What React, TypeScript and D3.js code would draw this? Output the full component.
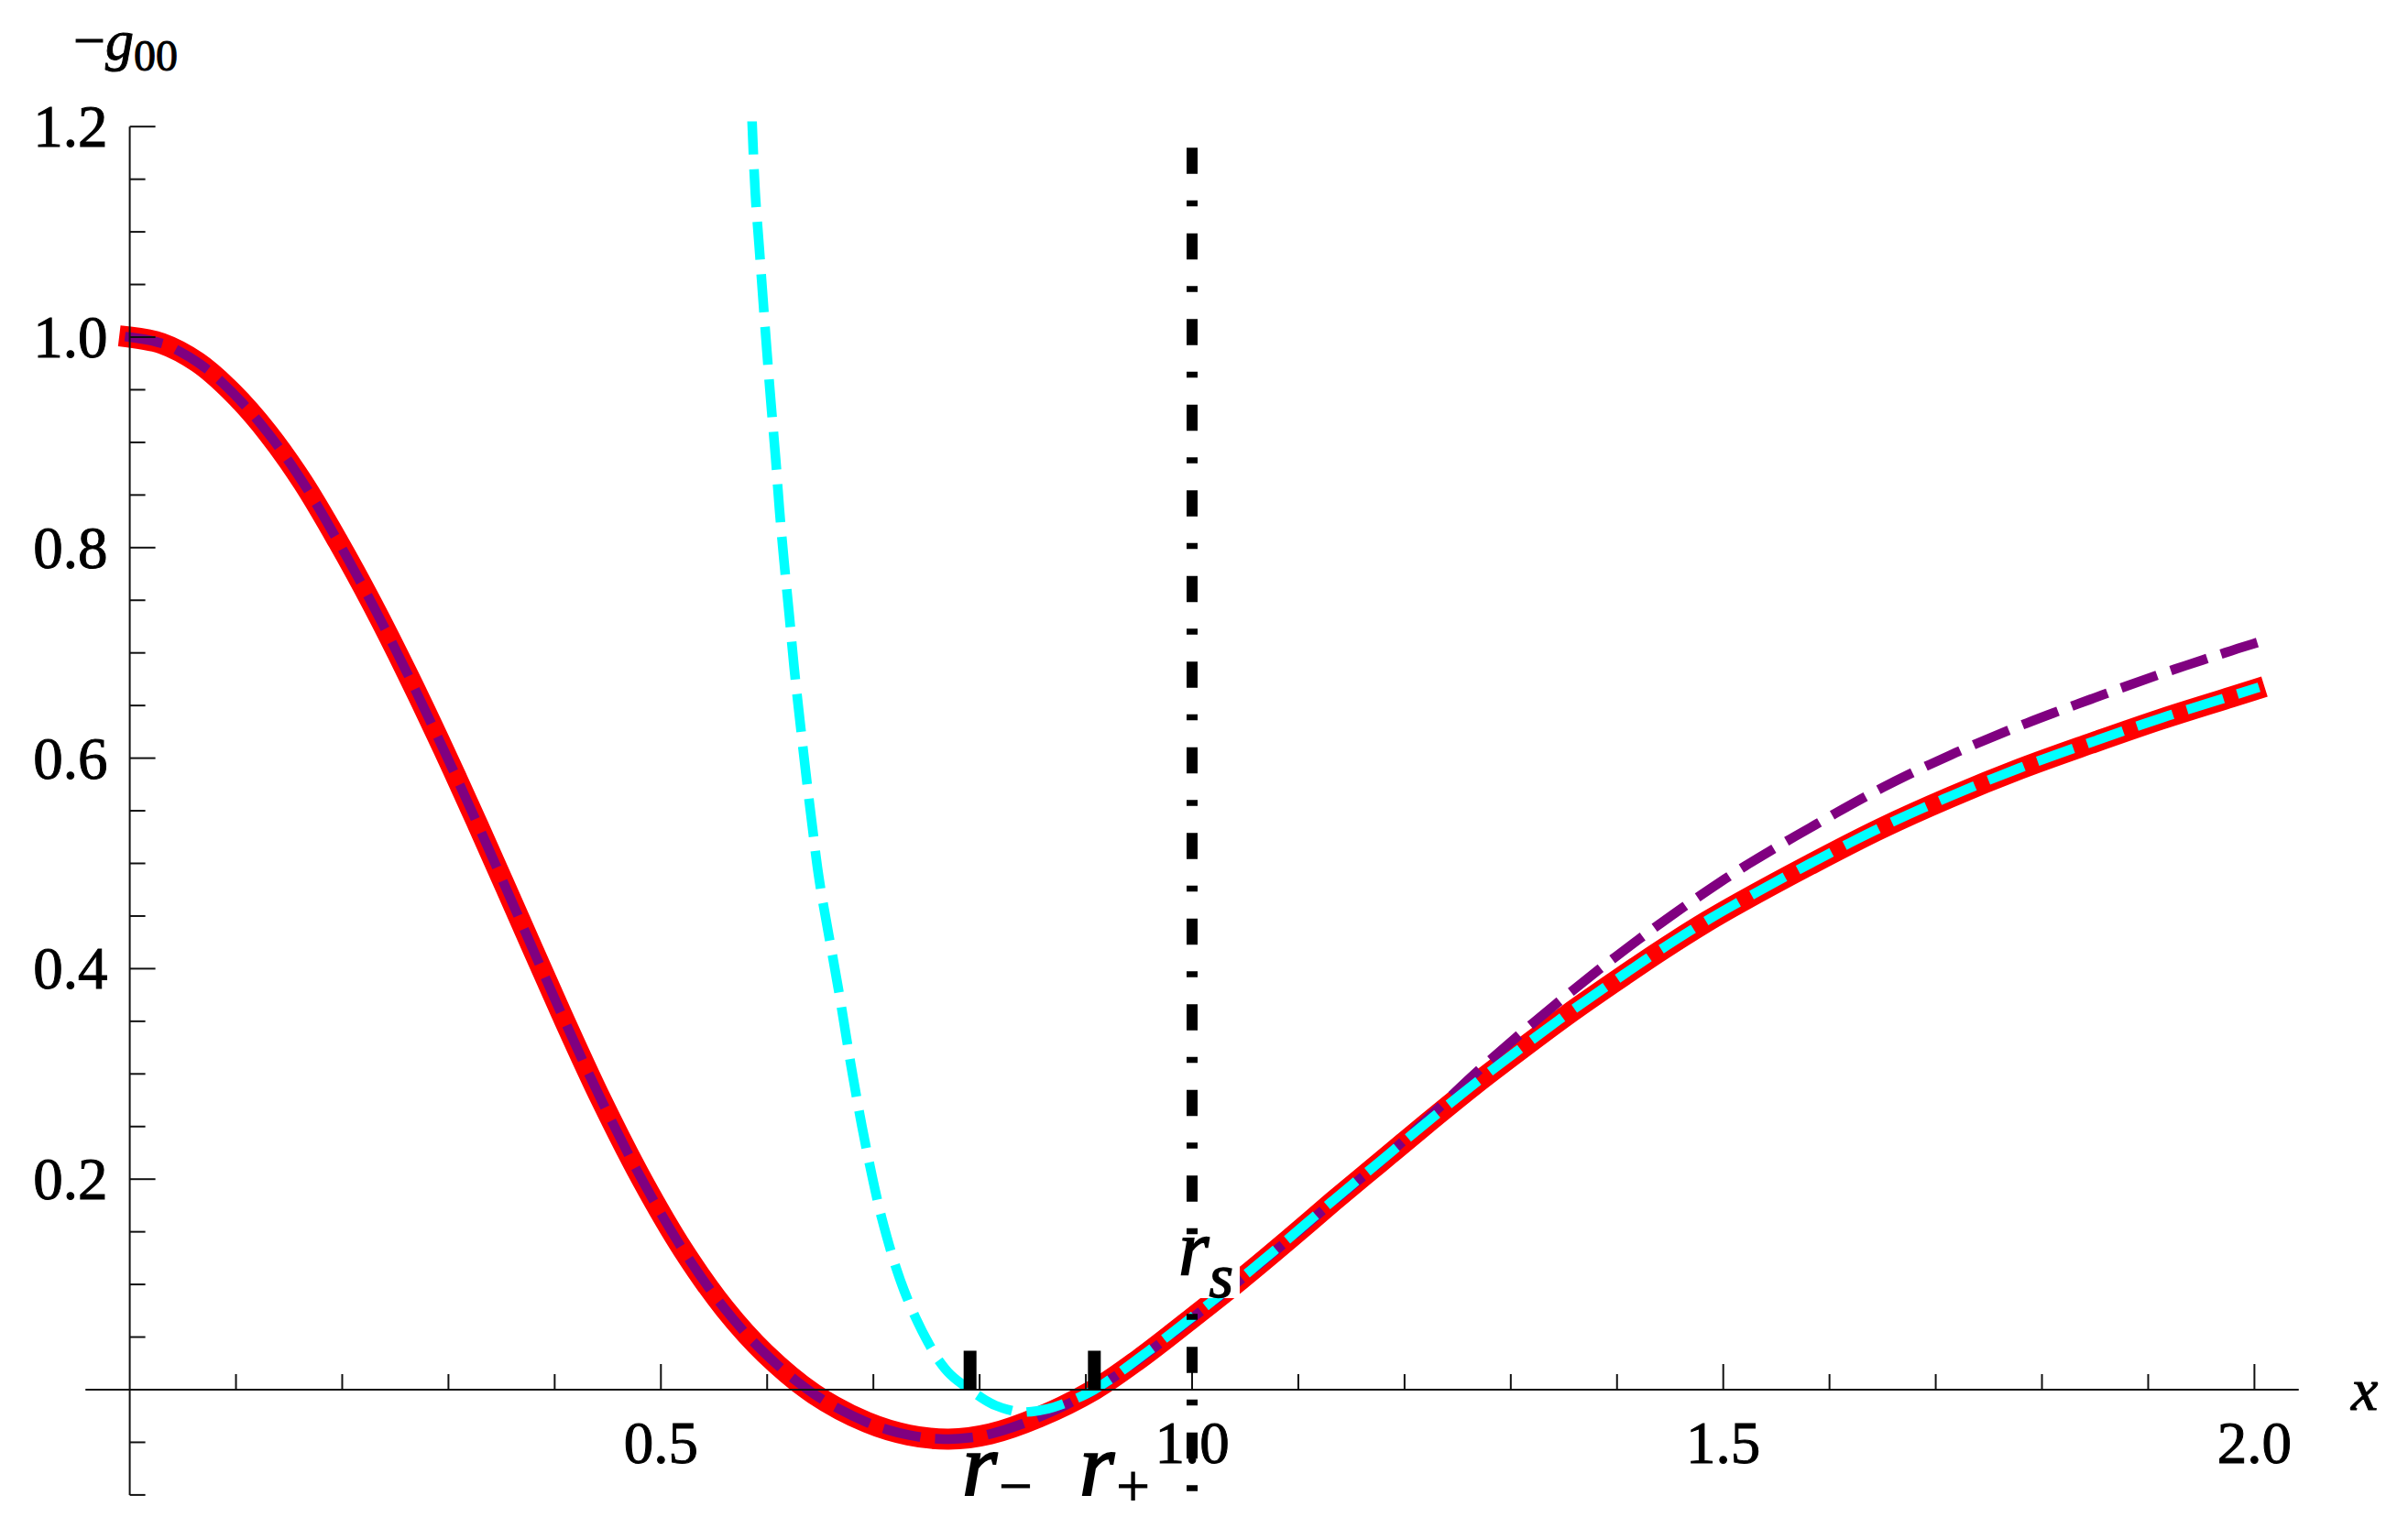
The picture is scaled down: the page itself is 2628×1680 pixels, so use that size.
import React from "react";
import * as d3 from "d3";

// ---------- data ----------
type Pt = [number, number];

// exact metric function (thick red)
const exactCurve: Pt[] = [
  [0, 1.0], [0.03, 0.994], [0.064, 0.976], [0.097, 0.947], [0.13, 0.909],
  [0.163, 0.862], [0.196, 0.806], [0.229, 0.745], [0.262, 0.679], [0.295, 0.609],
  [0.328, 0.536], [0.367, 0.447], [0.406, 0.358], [0.444, 0.275], [0.483, 0.198],
  [0.521, 0.1325], [0.56, 0.077], [0.598, 0.0345], [0.644, -0.004], [0.694, -0.031],
  [0.733, -0.043], [0.771, -0.047], [0.81, -0.042], [0.856, -0.026], [0.908, 0.0],
  [0.95, 0.029], [1.0, 0.068], [1.045, 0.104], [1.089, 0.141], [1.133, 0.179],
  [1.177, 0.216], [1.221, 0.253], [1.265, 0.289], [1.309, 0.323], [1.353, 0.356],
  [1.397, 0.387], [1.441, 0.417], [1.485, 0.445], [1.516, 0.463], [1.582, 0.499],
  [1.648, 0.533], [1.714, 0.563], [1.78, 0.59], [1.846, 0.614], [1.912, 0.637],
  [1.978, 0.658], [2.0, 0.665],
];

// purple dashed approximation
const purpleCurve: Pt[] = [
  [0, 1.0], [0.03, 0.994], [0.064, 0.976], [0.097, 0.947], [0.13, 0.909],
  [0.163, 0.862], [0.196, 0.806], [0.229, 0.745], [0.262, 0.679], [0.295, 0.609],
  [0.328, 0.536], [0.367, 0.447], [0.406, 0.358], [0.444, 0.275], [0.483, 0.198],
  [0.521, 0.1325], [0.56, 0.077], [0.598, 0.0345], [0.644, -0.004], [0.694, -0.031],
  [0.733, -0.043], [0.771, -0.047], [0.81, -0.042], [0.856, -0.026], [0.908, 0.0],
  [0.95, 0.029], [1.0, 0.068], [1.045, 0.104], [1.089, 0.141], [1.133, 0.179],
  [1.177, 0.2165], [1.221, 0.257], [1.265, 0.299], [1.309, 0.338], [1.353, 0.375],
  [1.397, 0.41], [1.441, 0.443], [1.485, 0.474], [1.523, 0.499], [1.582, 0.534],
  [1.648, 0.571], [1.714, 0.603], [1.78, 0.631], [1.846, 0.656], [1.912, 0.68],
  [1.978, 0.702], [2.0, 0.709],
];

// cyan dashed approximation (diverges at small x)
const cyanCurve: Pt[] = [
  [0.5858, 1.205], [0.5888, 1.137], [0.5925, 1.086], [0.5961, 1.036], [0.5998, 0.986],
  [0.6037, 0.936], [0.6079, 0.886], [0.6116, 0.836], [0.616, 0.786], [0.6208, 0.736],
  [0.6254, 0.686], [0.6308, 0.636], [0.6364, 0.586], [0.6424, 0.536], [0.6488, 0.486],
  [0.667, 0.381], [0.681, 0.296], [0.694, 0.226], [0.7097, 0.156], [0.729, 0.094],
  [0.752, 0.044], [0.77, 0.017], [0.791, 0.0], [0.815, -0.015], [0.84, -0.021],
  [0.865, -0.018], [0.887, -0.01], [0.908, 0.0], [0.95, 0.03], [1.0, 0.069],
  [1.045, 0.105], [1.089, 0.142], [1.133, 0.18], [1.177, 0.217], [1.221, 0.254],
  [1.265, 0.29], [1.309, 0.324], [1.353, 0.357], [1.397, 0.388], [1.441, 0.418],
  [1.485, 0.446], [1.516, 0.464], [1.582, 0.5], [1.648, 0.534], [1.714, 0.564],
  [1.78, 0.591], [1.846, 0.615], [1.912, 0.638], [1.978, 0.659], [2.0, 0.666],
];

// horizons r-, r+ and Schwarzschild radius r_s
const horizonX = [0.791, 0.908];
const horizonSub = ["\u2212", "+"];
const horizonLabelX = [0.7835, 0.894];
const rsX = 1.0;

// axes ticks
const xMajorTicks = [0.5, 1.0, 1.5, 2.0];
const xTickLabels = ["0.5", "1.0", "1.5", "2.0"];
const xMinorTicks = [0.1, 0.2, 0.3, 0.4, 0.6, 0.7, 0.8, 0.9, 1.1, 1.2, 1.3, 1.4, 1.6, 1.7, 1.8, 1.9];
const yMajorTicks = [0.2, 0.4, 0.6, 0.8, 1.0, 1.2];
const yTickLabels = ["0.2", "0.4", "0.6", "0.8", "1.0", "1.2"];
const yMinorTicks = [-0.1, -0.05, 0.05, 0.1, 0.15, 0.25, 0.3, 0.35, 0.45, 0.5, 0.55, 0.65, 0.7, 0.75, 0.85, 0.9, 0.95, 1.05, 1.1, 1.15];
const xAxisExtent = [-0.0417, 2.0417];
const yAxisExtent = [-0.1, 1.2];

// ---------- drawing ----------
const W = 2628;
const H = 1680;
const FONT = '"Liberation Serif", "Times New Roman", "DejaVu Serif", serif';
const tf: React.CSSProperties = { fontFamily: FONT };

export default function App() {
  const x = d3.scaleLinear().domain([0, 2]).range([141.6, 2460.4]);
  const y = d3.scaleLinear().domain([0, 1.2]).range([1517, 138.2]);

  const line = d3
    .line<Pt>()
    .x((d) => x(d[0]))
    .y((d) => y(d[1]))
    .curve(d3.curveCatmullRom.alpha(0.5));

  const x0 = x(0);
  const y0 = y(0);
  const axisColor = "#111";

  return (
    <svg
      width={W}
      height={H}
      viewBox={`0 0 ${W} ${H}`}
      style={{ position: "absolute", left: 0, top: 0, background: "#fff", fontFamily: FONT }}
    >
      <rect x={0} y={0} width={W} height={H} fill="#fff" />
      <defs>
        <clipPath id="plotClip">
          <rect x={0} y={y(1.205)} width={W} height={H} />
        </clipPath>
      </defs>

      {/* tick labels */}
      {xMajorTicks.map((t, i) => (
        <text key={"xl" + i} x={x(t)} y={y0 + 80} fontSize={65} textAnchor="middle" fill="#000" stroke="#000" strokeWidth={1} style={tf}>
          {xTickLabels[i]}
        </text>
      ))}
      {yMajorTicks.map((t, i) => (
        <text key={"yl" + i} x={x0 - 24} y={y(t) + 22} fontSize={65} textAnchor="end" fill="#000" stroke="#000" strokeWidth={1} style={tf}>
          {yTickLabels[i]}
        </text>
      ))}

      {/* curves */}
      <path d={line(exactCurve) || ""} fill="none" stroke="#FF0000" strokeWidth={23} strokeLinecap="square" strokeLinejoin="round" />
      <path d={line(purpleCurve) || ""} fill="none" stroke="#800080" strokeWidth={10.5} strokeLinecap="square" strokeDasharray="31 26.5" />
      <g clipPath="url(#plotClip)">
        <path d={line(cyanCurve) || ""} fill="none" stroke="#00FFFF" strokeWidth={10.5} strokeLinecap="square" strokeDasharray="31 26.5" />
      </g>

      {/* axes */}
      <line x1={x(xAxisExtent[0])} x2={x(xAxisExtent[1])} y1={y0} y2={y0} stroke={axisColor} strokeWidth={2} />
      <line x1={x0} x2={x0} y1={y(yAxisExtent[0])} y2={y(yAxisExtent[1])} stroke={axisColor} strokeWidth={2} />
      {xMajorTicks.map((t, i) => (
        <line key={"xM" + i} x1={x(t)} x2={x(t)} y1={y0} y2={y0 - 28} stroke={axisColor} strokeWidth={2} />
      ))}
      {xMinorTicks.map((t, i) => (
        <line key={"xm" + i} x1={x(t)} x2={x(t)} y1={y0} y2={y0 - 17} stroke={axisColor} strokeWidth={2} />
      ))}
      {yMajorTicks.map((t, i) => (
        <line key={"yM" + i} x1={x0} x2={x0 + 28} y1={y(t)} y2={y(t)} stroke={axisColor} strokeWidth={2} />
      ))}
      {yMinorTicks.map((t, i) => (
        <line key={"ym" + i} x1={x0} x2={x0 + 17} y1={y(t)} y2={y(t)} stroke={axisColor} strokeWidth={2} />
      ))}

      {/* axis labels */}
      <text x={2566} y={y0 + 22} fontSize={66} fontStyle="italic" fill="#000" stroke="#000" strokeWidth={1} style={tf}>x</text>
      <text x={80} y={65} fontSize={62} fill="#000" stroke="#000" strokeWidth={1} style={tf}>
        <tspan>{"\u2212"}</tspan>
        <tspan fontStyle="italic">g</tspan>
        <tspan fontSize={48} dy={12}>00</tspan>
      </text>

      {/* r_s dash-dot line */}
      <line
        x1={x(rsX)} x2={x(rsX)} y1={y(1.18)} y2={y(-0.105)}
        stroke="#000" strokeWidth={12} strokeDasharray="28.5 29 6.5 29.5" strokeLinecap="butt"
      />

      {/* horizon markers */}
      {horizonX.map((h, i) => (
        <line key={"hz" + i} x1={x(h)} x2={x(h)} y1={y0} y2={y(0.037)} stroke="#000" strokeWidth={14} />
      ))}
      {horizonX.map((h, i) => (
        <text key={"hl" + i} x={x(horizonLabelX[i])} y={y(-0.1)} fill="#000" stroke="#000" strokeWidth={2} style={tf}>
          <tspan fontSize={98} fontStyle="italic">r</tspan>
          <tspan fontSize={65} dy={12} dx={2} strokeWidth={1}>{horizonSub[i]}</tspan>
        </text>
      ))}

      {/* r_s label with white background */}
      <rect x={x(rsX) - 19} y={y(0.146)} width={71} height={y(0.087) - y(0.146)} fill="#fff" />
      <text x={x(rsX) - 15} y={y(0.109)} fill="#000" stroke="#000" strokeWidth={1.5} style={tf}>
        <tspan fontSize={86} fontStyle="italic">r</tspan>
        <tspan fontSize={68} fontStyle="italic" dy={24}>s</tspan>
      </text>
    </svg>
  );
}
